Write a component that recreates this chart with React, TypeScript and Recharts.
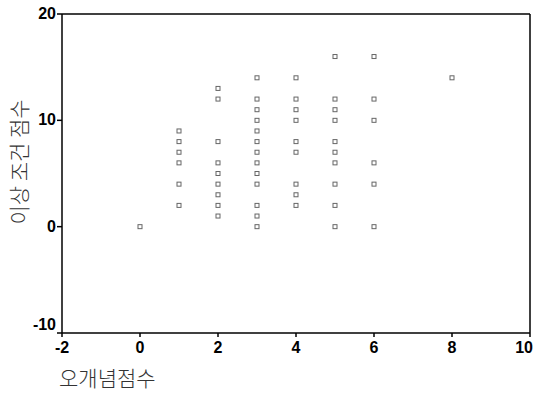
import { ScatterChart, Scatter, XAxis, YAxis, ReferenceLine } from "recharts";

// 오개념점수 (x) 별 이상 조건 점수 (y)
const misconception = [0, 1, 2, 3, 4, 5, 6, 8];
const condAt0 = [0];
const condAt1 = [9, 8, 7, 6, 4, 2];
const condAt2 = [13, 12, 8, 6, 5, 4, 3, 2, 1];
const condAt3 = [14, 12, 11, 10, 9, 8, 7, 6, 5, 4, 2, 1, 0];
const condAt4 = [14, 12, 11, 10, 8, 7, 4, 3, 2];
const condAt5 = [16, 12, 11, 10, 8, 7, 6, 4, 2, 0];
const condAt6 = [16, 12, 10, 6, 4, 0];
const condAt8 = [14];
const xTicks = [-2, 0, 2, 4, 6, 8, 10];
const yTicks = [-10, 0, 10, 20];

const columns = [condAt0, condAt1, condAt2, condAt3, condAt4, condAt5, condAt6, condAt8];
const points = columns.flatMap((ys, i) => ys.map((y) => ({ x: misconception[i], y })));

const Dot = (props: any) => {
  const { cx, cy } = props;
  return <rect x={cx - 2} y={cy - 2} width={4} height={4} fill="none" stroke="#666" strokeWidth={1} />;
};

const font = "Liberation Sans, Arial, sans-serif";

const XTick = (props: any) => {
  const { x, y, payload } = props;
  const last = payload.value === 10;
  return (
    <text x={last ? x + 3 : x} y={y + 14} textAnchor={last ? "end" : "middle"} fontSize={16} fontWeight="bold" fontFamily={font} fill="#000">
      {payload.value}
    </text>
  );
};

const YTick = (props: any) => {
  const { x, y, payload } = props;
  const dy = payload.value === -10 ? -3 : 5;
  return (
    <text x={x} y={y + dy} textAnchor="end" fontSize={16} fontWeight="bold" fontFamily={font} fill="#000">
      {payload.value}
    </text>
  );
};

export default function App() {
  return (
    <div style={{ position: "fixed", left: 0, top: 0, width: 533, height: 393, background: "#fff" }}>
      <ScatterChart width={533} height={393} margin={{ top: 14, right: 3, bottom: 0, left: 0 }}>
        <XAxis
          type="number"
          dataKey="x"
          domain={[-2, 10]}
          ticks={xTicks}
          interval={0}
          allowDataOverflow
          height={60}
          tickSize={4}
          stroke="#000"
          strokeWidth={1.5}
          tick={<XTick />}
        />
        <YAxis
          type="number"
          dataKey="y"
          domain={[-10, 20]}
          ticks={yTicks}
          interval={0}
          allowDataOverflow
          width={62}
          tickSize={5}
          tickMargin={1}
          stroke="#000"
          strokeWidth={1.5}
          tick={<YTick />}
        />
        <ReferenceLine y={20} stroke="#000" strokeWidth={1.5} />
        <ReferenceLine x={10} stroke="#000" strokeWidth={1.5} />
        <Scatter data={points} shape={<Dot />} isAnimationActive={false} />
        <text
          x={18}
          y={162}
          transform="rotate(-90 18 162)"
          textAnchor="middle"
          dominantBaseline="central"
          fontSize={21}
          fontWeight={300}
          fill="#333"
          fontFamily="Noto Sans CJK KR, sans-serif"
        >
          이상 조건 점수
        </text>
        <text x={59} y={386} fontSize={21} fontWeight={300} fill="#333" fontFamily="Noto Sans CJK KR, sans-serif">
          오개념점수
        </text>
      </ScatterChart>
    </div>
  );
}
